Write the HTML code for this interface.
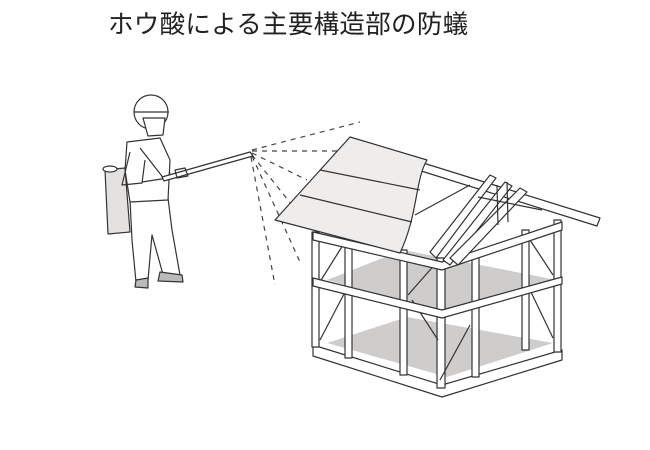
<!DOCTYPE html>
<html><head><meta charset="utf-8"><style>
body{margin:0;background:#fff;width:650px;height:450px;overflow:hidden}
.t{position:absolute;left:108px;top:4px;font:25.5px "Liberation Sans","Noto Sans CJK JP",sans-serif;color:#222;letter-spacing:0.3px;white-space:nowrap}
svg{position:absolute;left:0;top:0}
</style></head><body>
<div class="t">ホウ酸による主要構造部の防蟻</div>
<svg width="650" height="450" viewBox="0 0 650 450" fill="none" stroke="#333" stroke-width="1.2" stroke-linejoin="round">
<g stroke-dasharray="5,5" stroke="#444">
<path d="M252 150 L360 122"/><path d="M252 151 L340 151"/><path d="M252 153 L307 180"/>
<path d="M252 155 L300 215"/><path d="M252 156 L300 262"/><path d="M251 157 L275 285"/>
</g>
<path d="M327 280 L403 250 L557 280 L447 313 Z" fill="#cfcdcb" stroke="none"/>
<path d="M327 343 L407 317 L553 343 L447 377 Z" fill="#cfcdcb" stroke="none"/>
<path d="M313 345 L442 385 L562 350 L562 360 L442 397 L313 356 Z" fill="#fff"/>
<g fill="#fff">
<rect x="312" y="232" width="7" height="115"/>
<rect x="345" y="240" width="7" height="118"/>
<rect x="400" y="250" width="7" height="125"/>
<rect x="437" y="258" width="8" height="130"/>
<rect x="472" y="255" width="7" height="122"/>
<rect x="522" y="230" width="7" height="120"/>
<rect x="554" y="220" width="7" height="132"/>
</g>
<path d="M318 285 L343 245 M320 340 L345 292 M408 295 L437 262 M412 300 L438 340 M440 380 L470 325 M530 240 L553 275 M530 290 L553 338"/>
<g fill="#fff">
<path d="M313 278 L442 310 L562 277 L562 284 L442 318 L313 286 Z"/>
<path d="M313 232 L442 262 L562 222 L562 230 L442 270 L313 240 Z"/>
</g>
<g fill="#fff">
<path d="M420 162 L600 218 L597 226 L418 170 Z"/>
<path d="M430 252 L490 175 L496 178 L436 258 Z"/>
<path d="M443 260 L505 182 L512 186 L450 265 Z"/>
<path d="M450 258 L520 188 L527 192 L458 265 Z"/>
</g>
<path d="M478 197 L542 210 M415 215 L470 185 M497 185 L498 225 M507 182 L508 222"/>
<path d="M350 137 L427 160 C415 180 418 215 400 253 L275 220 Z" fill="#eeedec"/>
<path d="M320 170 L420 190 M300 195 L412 222"/>
<path d="M105 170 L125 168 L130 232 L108 234 Z" fill="#e3e2e0"/>
<ellipse cx="110" cy="169" rx="7" ry="3" fill="#fff"/>
<path d="M130 200 L168 198 L172 230 L180 275 L164 278 L152 235 L148 280 L136 282 L132 240 Z" fill="#fff"/>
<path d="M160 272 L182 275 L183 282 L158 281 Z M136 280 L148 278 L148 288 L135 287 Z" fill="#bbb"/>
<path d="M127 142 L160 138 L170 160 L168 200 L130 202 L125 170 Z" fill="#fff"/>
<path d="M130 152 L122 185 L142 183 L145 160 M140 148 L165 180"/>
<path d="M142 182 L168 178 L170 172"/>
<circle cx="151" cy="112" r="17" fill="#fff"/>
<path d="M134 112 L169 112"/>
<path d="M143 118 L165 118 L163 135 L148 136 Z" fill="#fff"/>
<path d="M162 177 L250 152 L253 156 L164 181 Z" fill="#fff"/>
<path d="M175 170 L185 168 L188 176 L177 178 Z"/>
</svg>
</body></html>
